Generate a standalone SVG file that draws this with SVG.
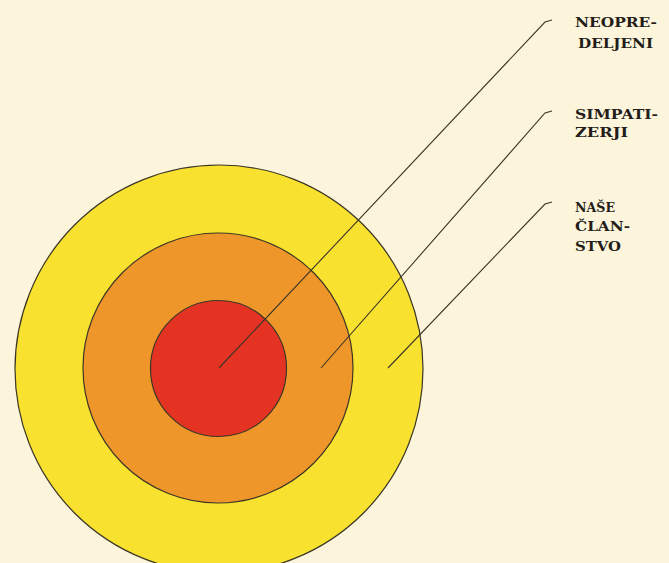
<svg xmlns="http://www.w3.org/2000/svg" width="669" height="563" viewBox="0 0 669 563">
<style>
.ring{stroke:#3b3626;stroke-width:1.2}
.lead{fill:none;stroke:#3b3626;stroke-width:1.1}
.lbl{font-family:"DejaVu Serif","Liberation Serif",serif;font-weight:bold;font-size:12.5px;fill:#231d1a}
</style>
<rect width="669" height="563" fill="#FDF5DB"/>
<g id="outer"><circle class="ring" cx="219" cy="369" r="204" fill="#F8E22F"/></g>
<g id="middle"><circle class="ring" cx="218" cy="368" r="135" fill="#EF962B"/></g>
<g id="inner"><circle class="ring" cx="218.5" cy="368.5" r="68" fill="#E43323"/></g>
<g id="connectors">
<polyline class="lead" points="219,368 545,22 552,20"/>
<polyline class="lead" points="321,368 545,113 552,111"/>
<polyline class="lead" points="388,368 545,204 552,202"/>
</g>
<g id="label-neopredeljeni">
<text class="lbl" x="575" y="27" textLength="82" lengthAdjust="spacingAndGlyphs">NEOPRE-</text>
<text class="lbl" x="578" y="48" textLength="75" lengthAdjust="spacingAndGlyphs">DELJENI</text>
</g>
<g id="label-simpatizerji">
<text class="lbl" x="575" y="119" textLength="83" lengthAdjust="spacingAndGlyphs">SIMPATI-</text>
<text class="lbl" x="575" y="137" textLength="53" lengthAdjust="spacingAndGlyphs">ZERJI</text>
</g>
<g id="label-clanstvo">
<text class="lbl" x="575" y="212" textLength="40" lengthAdjust="spacingAndGlyphs">NAŠE</text>
<text class="lbl" x="575" y="231" textLength="55" lengthAdjust="spacingAndGlyphs">ČLAN-</text>
<text class="lbl" x="575" y="251" textLength="46" lengthAdjust="spacingAndGlyphs">STVO</text>
</g>
</svg>
